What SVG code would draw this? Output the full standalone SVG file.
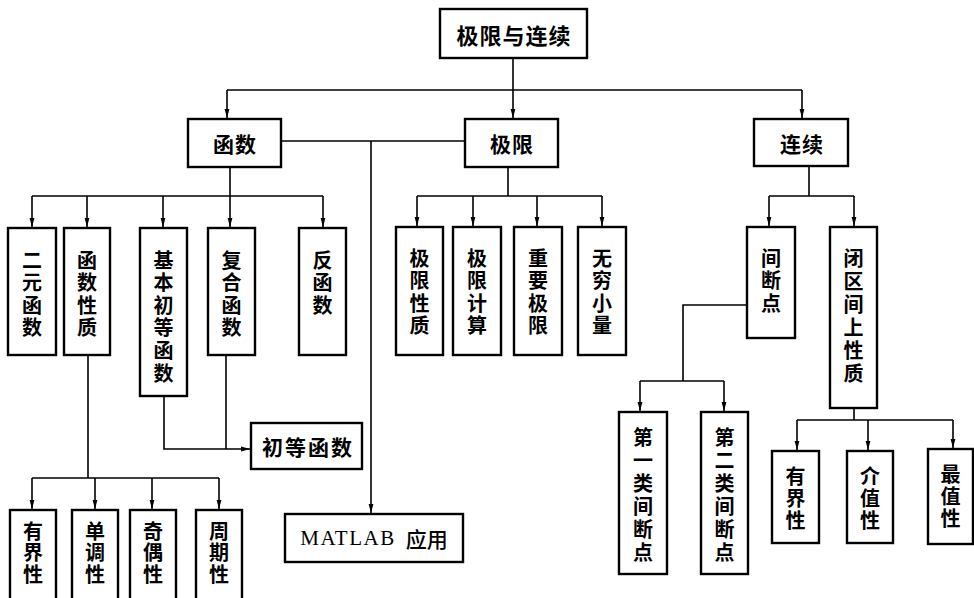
<svg xmlns="http://www.w3.org/2000/svg" width="974" height="598" viewBox="0 0 974 598">
<style>
.box{fill:#fff;stroke:#000;stroke-width:2.4}
.t{font-family:"Noto Sans CJK SC","Noto Sans CJK JP",sans-serif;font-weight:bold;font-size:20px;fill:#000;text-anchor:middle;dominant-baseline:central}
.v{writing-mode:vertical-rl;text-anchor:start;letter-spacing:2.5px}
.h{font-size:21px;letter-spacing:1px}
.ln{fill:none;stroke:#000;stroke-width:1.6}
.m{font-family:"Liberation Serif",serif;font-size:21px;letter-spacing:1.5px;font-weight:normal}
.c{font-family:"Noto Sans CJK SC",sans-serif;font-weight:500;font-size:21px}
</style>
<defs>
<marker id="ar" markerUnits="userSpaceOnUse" markerWidth="10" markerHeight="6" refX="9" refY="3" orient="auto">
<path d="M0,0.6 L9,3 L0,5.4 z" fill="#000"/>
</marker>
</defs>
<rect width="974" height="598" fill="#fff"/>
<g id="connectors">
<path class="ln" d="M513,58 V118" marker-end="url(#ar)"/>
<path class="ln" d="M227,90 H802"/>
<path class="ln" d="M227,90 V118" marker-end="url(#ar)"/>
<path class="ln" d="M802,90 V118" marker-end="url(#ar)"/>
<path class="ln" d="M281,141 H465"/>
<path class="ln" d="M371,141 V513" marker-end="url(#ar)"/>
<path class="ln" d="M230,167 V196 M32,196 H323"/>
<path class="ln" d="M32,196 V227" marker-end="url(#ar)"/>
<path class="ln" d="M87,196 V227" marker-end="url(#ar)"/>
<path class="ln" d="M163,196 V227" marker-end="url(#ar)"/>
<path class="ln" d="M230,196 V227" marker-end="url(#ar)"/>
<path class="ln" d="M323,196 V227" marker-end="url(#ar)"/>
<path class="ln" d="M508,167 V196 M417,196 H602"/>
<path class="ln" d="M417,196 V226" marker-end="url(#ar)"/>
<path class="ln" d="M473,196 V226" marker-end="url(#ar)"/>
<path class="ln" d="M537,196 V226" marker-end="url(#ar)"/>
<path class="ln" d="M602,196 V226" marker-end="url(#ar)"/>
<path class="ln" d="M809,166 V196 M769,196 H854"/>
<path class="ln" d="M769,196 V226" marker-end="url(#ar)"/>
<path class="ln" d="M854,196 V226" marker-end="url(#ar)"/>
<path class="ln" d="M747,305 H683 V381 M640,381 H724"/>
<path class="ln" d="M640,381 V411" marker-end="url(#ar)"/>
<path class="ln" d="M724,381 V411" marker-end="url(#ar)"/>
<path class="ln" d="M854,408 V420 M797,420 H953"/>
<path class="ln" d="M797,420 V450" marker-end="url(#ar)"/>
<path class="ln" d="M868,420 V450" marker-end="url(#ar)"/>
<path class="ln" d="M953,420 V448" marker-end="url(#ar)"/>
<path class="ln" d="M88,355 V478 M32,478 H219"/>
<path class="ln" d="M32,478 V509" marker-end="url(#ar)"/>
<path class="ln" d="M95,478 V509" marker-end="url(#ar)"/>
<path class="ln" d="M152,478 V509" marker-end="url(#ar)"/>
<path class="ln" d="M219,478 V509" marker-end="url(#ar)"/>
<path class="ln" d="M164,396 V449 H250" marker-end="url(#ar)"/>
<path class="ln" d="M226,355 V449"/>
</g>
<g id="n-root"><rect class="box" x="440" y="9" width="147" height="49"/><text class="t h" x="514" y="33.5" style="font-size:22px">极限与连续</text></g>
<g id="n-hanshu"><rect class="box" x="188" y="119" width="93" height="48"/><text class="t h" x="235" y="143">函数</text></g>
<g id="n-jixian"><rect class="box" x="465" y="119" width="93" height="48"/><text class="t h" x="512" y="143">极限</text></g>
<g id="n-lianxu"><rect class="box" x="754" y="119" width="94" height="47"/><text class="t h" x="802" y="143">连续</text></g>
<g id="n-eryuan"><rect class="box" x="8" y="228" width="48" height="127"/><text class="t v" x="32" y="250">二元函数</text></g>
<g id="n-xingzhi"><rect class="box" x="64" y="228" width="46" height="127"/><text class="t v" x="87" y="250">函数性质</text></g>
<g id="n-jiben"><rect class="box" x="140" y="228" width="47" height="168"/><text class="t v" x="163.5" y="250" style="letter-spacing:2.6px">基本初等函数</text></g>
<g id="n-fuhe"><rect class="box" x="208" y="228" width="47" height="127"/><text class="t v" x="231.5" y="250">复合函数</text></g>
<g id="n-fan"><rect class="box" x="299" y="228" width="47" height="127"/><text class="t v" x="322.5" y="250">反函数</text></g>
<g id="n-jxxz"><rect class="box" x="396" y="227" width="47" height="128"/><text class="t v" x="419.5" y="248">极限性质</text></g>
<g id="n-jxjs"><rect class="box" x="453" y="227" width="48" height="128"/><text class="t v" x="477" y="248">极限计算</text></g>
<g id="n-zyjx"><rect class="box" x="514" y="227" width="48" height="128"/><text class="t v" x="538" y="248">重要极限</text></g>
<g id="n-wqxl"><rect class="box" x="578" y="227" width="48" height="128"/><text class="t v" x="602" y="248">无穷小量</text></g>
<g id="n-jdd"><rect class="box" x="747" y="227" width="48" height="111"/><text class="t v" x="771" y="248">间断点</text></g>
<g id="n-bqj"><rect class="box" x="830" y="227" width="47" height="181"/><text class="t v" x="853.5" y="248" style="letter-spacing:3px">闭区间上性质</text></g>
<g id="n-d1"><rect class="box" x="619" y="412" width="48" height="162"/><text class="t v" x="643" y="427" style="letter-spacing:3px">第一类间断点</text></g>
<g id="n-d2"><rect class="box" x="701" y="412" width="47" height="162"/><text class="t v" x="724.5" y="427" style="letter-spacing:3px">第二类间断点</text></g>
<g id="n-yjx2"><rect class="box" x="772" y="451" width="47" height="92"/><text class="t v" x="795.5" y="466" style="letter-spacing:2px">有界性</text></g>
<g id="n-jzx"><rect class="box" x="847" y="451" width="46" height="92"/><text class="t v" x="870" y="466" style="letter-spacing:2px">介值性</text></g>
<g id="n-zzx"><rect class="box" x="928" y="449" width="45" height="95"/><text class="t v" x="950.5" y="464" style="letter-spacing:2px">最值性</text></g>
<g id="n-chudeng"><rect class="box" x="251" y="423" width="111" height="46"/><text class="t" x="308" y="446" style="font-size:21px;letter-spacing:2px">初等函数</text></g>
<g id="n-matlab"><rect class="box" x="285" y="514" width="178" height="48"/><text class="t" x="374" y="538"><tspan class="m">MATLAB</tspan><tspan class="c" dx="10">应用</tspan></text></g>
<g id="n-yjx1"><rect class="box" x="10" y="510" width="46" height="100"/><text class="t v" x="33" y="521" style="letter-spacing:1.5px">有界性</text></g>
<g id="n-ddx"><rect class="box" x="72" y="510" width="46" height="100"/><text class="t v" x="95" y="521" style="letter-spacing:1.5px">单调性</text></g>
<g id="n-joux"><rect class="box" x="130" y="510" width="46" height="100"/><text class="t v" x="153" y="521" style="letter-spacing:1.5px">奇偶性</text></g>
<g id="n-zqx"><rect class="box" x="196" y="510" width="46" height="100"/><text class="t v" x="219" y="521" style="letter-spacing:1.5px">周期性</text></g>
</svg>
